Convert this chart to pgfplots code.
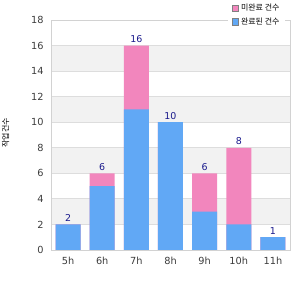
\documentclass[border=0pt]{standalone}
\usepackage{fontspec}
\setmainfont{DejaVu Sans}
\newfontfamily\kr{Noto Sans CJK KR}
\usepackage{pgfplots}
\pgfplotsset{compat=1.18}
\usepackage{pgfplotstable}
\definecolor{barblue}{RGB}{97,168,245}
\definecolor{barpink}{RGB}{242,134,189}
\definecolor{gridc}{RGB}{221,221,221}
\definecolor{framec}{RGB}{210,210,210}
\definecolor{bandc}{RGB}{242,242,242}
\definecolor{labc}{RGB}{26,26,140}
\definecolor{tickc}{RGB}{60,60,60}

% blue = completed part (bottom), pink = remaining part, total = blue + pink
\pgfplotstableread{
x blue pink total
0 2 0 2
1 5 1 6
2 11 5 16
3 10 0 10
4 3 3 6
5 2 6 8
6 1 0 1
}\datatable

\begin{document}
\begin{tikzpicture}
\begin{axis}[
  set layers,
  at={(51bp,50bp)}, anchor=south west,
  scale only axis, width=239bp, height=230bp,
  xmin=-0.5, xmax=6.5, ymin=0, ymax=18,
  xtick={0,...,6}, xticklabels={5h,6h,7h,8h,9h,10h,11h},
  ytick={0,2,...,18},
  /pgf/number format/assume math mode=true,
  ymajorgrids, grid style={gridc, line width=0.8bp},
  axis line style={framec, line width=0.8bp},
  major tick length=0pt,
  tick label style={font=\fontsize{9.8}{11}\selectfont, text=tickc},
  xticklabel style={yshift=-4bp},
  yticklabel style={xshift=-4bp},
  ylabel={\kr 작업건수},
  every axis y label/.style={at={(axis description cs:-0.19,0.51)}, rotate=90, anchor=center, font=\fontsize{8}{9}\selectfont, text=black},
  legend style={at={(axis description cs:0.74,1.087)}, anchor=north west, draw=none, fill=white,
    font=\fontsize{8}{9}\selectfont, inner xsep=4bp, inner ysep=2bp, row sep=1.5bp,
    /tikz/every even column/.append style={column sep=8bp}},
  legend image code/.code={\draw[#1, draw=gray, line width=0.6bp] (0bp,-3.2bp) rectangle (6.4bp,3.2bp);},
]
\addplot[forget plot, sharp plot, fill=bandc, draw=none, on layer=axis background]
  coordinates {(-0.5,2) (6.5,2) (6.5,4) (-0.5,4)} -- cycle;
\addplot[forget plot, sharp plot, fill=bandc, draw=none, on layer=axis background]
  coordinates {(-0.5,6) (6.5,6) (6.5,8) (-0.5,8)} -- cycle;
\addplot[forget plot, sharp plot, fill=bandc, draw=none, on layer=axis background]
  coordinates {(-0.5,10) (6.5,10) (6.5,12) (-0.5,12)} -- cycle;
\addplot[forget plot, sharp plot, fill=bandc, draw=none, on layer=axis background]
  coordinates {(-0.5,14) (6.5,14) (6.5,16) (-0.5,16)} -- cycle;
% pink segment sits on top of blue: draw the full stack height in pink, then blue over it
\addplot[ybar, bar width=25bp, bar shift=0pt, fill=barpink, draw=none] table[x=x, y=total]{\datatable};
\addlegendentry{\kr 미완료 건수}
\addplot[ybar, bar width=25bp, bar shift=0pt, fill=barblue, draw=none] table[x=x, y=blue]{\datatable};
\addlegendentry{\kr 완료된 건수}
\addplot[forget plot, sharp plot, draw=none, mark=none,
  nodes near coords, point meta=y,
  nodes near coords style={font=\fontsize{9.5}{11}\selectfont, text=labc, anchor=south, inner sep=2.5bp}]
  table[x=x, y=total]{\datatable};
\end{axis}
\pgfresetboundingbox
\path[use as bounding box] (0,0) rectangle (300bp,300bp);
\end{tikzpicture}
\end{document}
